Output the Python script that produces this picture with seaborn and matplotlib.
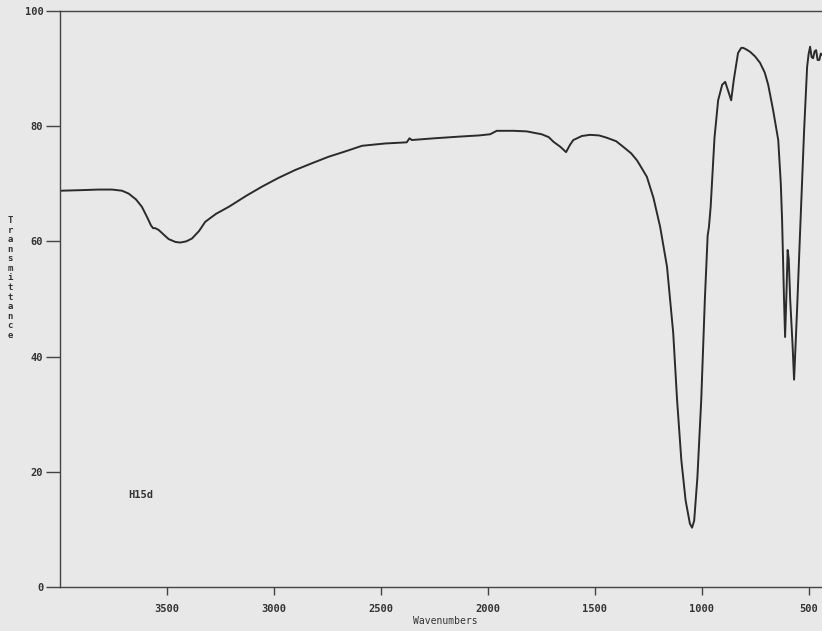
import matplotlib
matplotlib.use("Agg")
import matplotlib.pyplot as plt
import seaborn as sns
import pandas as pd

# FTIR spectrum of sample H15d: wavenumber (cm-1) vs transmittance (%)
wavenumber = [
    3995, 3900, 3820, 3757, 3710, 3679, 3645, 3617, 3590, 3575, 3565, 3555,
    3539, 3510, 3492, 3460, 3438, 3410, 3383, 3350, 3321, 3270, 3211, 3130,
    3056, 2980, 2900, 2820, 2744, 2660, 2588, 2480, 2379, 2366, 2355, 2250,
    2130, 2040, 1989, 1958, 1880, 1818, 1748, 1715, 1693, 1660, 1634, 1615,
    1600, 1560, 1522, 1480, 1444, 1400, 1366, 1330, 1303, 1288, 1256, 1225,
    1194, 1162, 1133, 1115, 1095, 1075, 1055, 1045, 1035, 1020, 1002, 985,
    972, 966, 958, 940, 923, 904, 890, 875, 862, 850, 839, 830, 815, 806,
    790, 773, 750, 727, 705, 689, 666, 642, 630, 624, 615, 610, 603, 598,
    593, 586, 575, 568, 561, 554, 540, 521, 507, 500, 493, 486, 479, 472,
    465, 458, 450, 443, 437, 420, 405,
]
transmittance = [
    68.8, 68.9, 69.0, 69.0, 68.8, 68.3, 67.3, 66.0, 64.0, 62.8, 62.3, 62.3,
    62.0, 61.0, 60.4, 59.9, 59.8, 60.0, 60.5, 61.8, 63.4, 64.8, 66.0, 67.9,
    69.5, 71.0, 72.4, 73.6, 74.7, 75.7, 76.6, 77.0, 77.2, 77.9, 77.6, 77.9,
    78.2, 78.4, 78.6, 79.2, 79.2, 79.1, 78.6, 78.1, 77.3, 76.4, 75.5, 76.8,
    77.6, 78.3, 78.5, 78.4, 78.0, 77.4, 76.4, 75.3, 74.1, 73.2, 71.2, 67.5,
    62.5, 55.6, 44.1, 32.5, 22.0, 15.0, 11.0, 10.3, 11.5, 19.0, 32.5, 50.0,
    61.0, 62.5, 66.0, 78.0, 84.5, 87.2, 87.7, 86.0, 84.5, 88.0, 90.6, 92.7,
    93.6, 93.6, 93.3, 92.9, 92.1, 91.0, 89.3, 87.2, 82.8, 77.6, 70.0, 63.7,
    50.0, 43.4, 51.6, 58.5, 57.0, 49.8, 42.0, 36.0, 42.0, 48.1, 61.5, 79.3,
    90.3, 92.5, 93.8, 92.0, 91.8, 93.0, 93.2, 91.5, 91.5, 92.6, 92.4, 92.0,
    92.2,
]
x_ticks = [3500, 3000, 2500, 2000, 1500, 1000, 500]
y_ticks = [0, 20, 40, 60, 80, 100]
sample_name = "H15d"
x_title = "Wavenumbers"
y_title = "Transmittance"

spectrum = pd.DataFrame({"wavenumber": wavenumber, "transmittance": transmittance})

sns.set_theme(style="ticks")
paper = "#e8e8e8"
ink = "#2b2b2b"
plt.rcParams["font.family"] = ["DejaVu Sans Mono", "DejaVu Sans"]
plt.rcParams["font.weight"] = "bold"

fig = plt.figure(figsize=(8.22, 6.31), dpi=100, facecolor=paper)
ax = fig.add_axes([60 / 822, 44 / 631, 770 / 822, 576 / 631])
ax.set_facecolor(paper)

sns.lineplot(data=spectrum, x="wavenumber", y="transmittance", ax=ax,
             estimator=None, sort=False, color=ink, linewidth=1.4)

ax.set_xlim(4000, 400)
ax.set_ylim(0, 100)
ax.set_xticks(x_ticks)
ax.set_xticklabels([str(v) for v in x_ticks])
ax.set_yticks(y_ticks)
ax.set_yticklabels([str(v) for v in y_ticks])

ax.tick_params(axis="x", direction="out", length=6, width=1.0, pad=6,
               labelsize=7.5, colors="#444444", labelcolor="#333333")
ax.tick_params(axis="y", direction="out", length=10, width=1.0, pad=2,
               labelsize=7.5, colors="#444444", labelcolor="#333333")

for side in ("left", "bottom", "top", "right"):
    ax.spines[side].set_visible(True)
    ax.spines[side].set_color("#444444")
    ax.spines[side].set_linewidth(1.0)

ax.set_xlabel(x_title, fontsize=7, color="#333333", labelpad=2)
ax.set_ylabel("")

# Vertical axis title with letters stacked upright
fig.text(10 / 822, 1 - 278 / 631, "\n".join(y_title), ha="center", va="center",
         fontsize=6.5, color="#333333", linespacing=1.08)

ax.text(3680, 16, sample_name, ha="left", va="center", fontsize=7.5,
        color="#333333")

fig.savefig("out.png", dpi=100, facecolor=paper)
